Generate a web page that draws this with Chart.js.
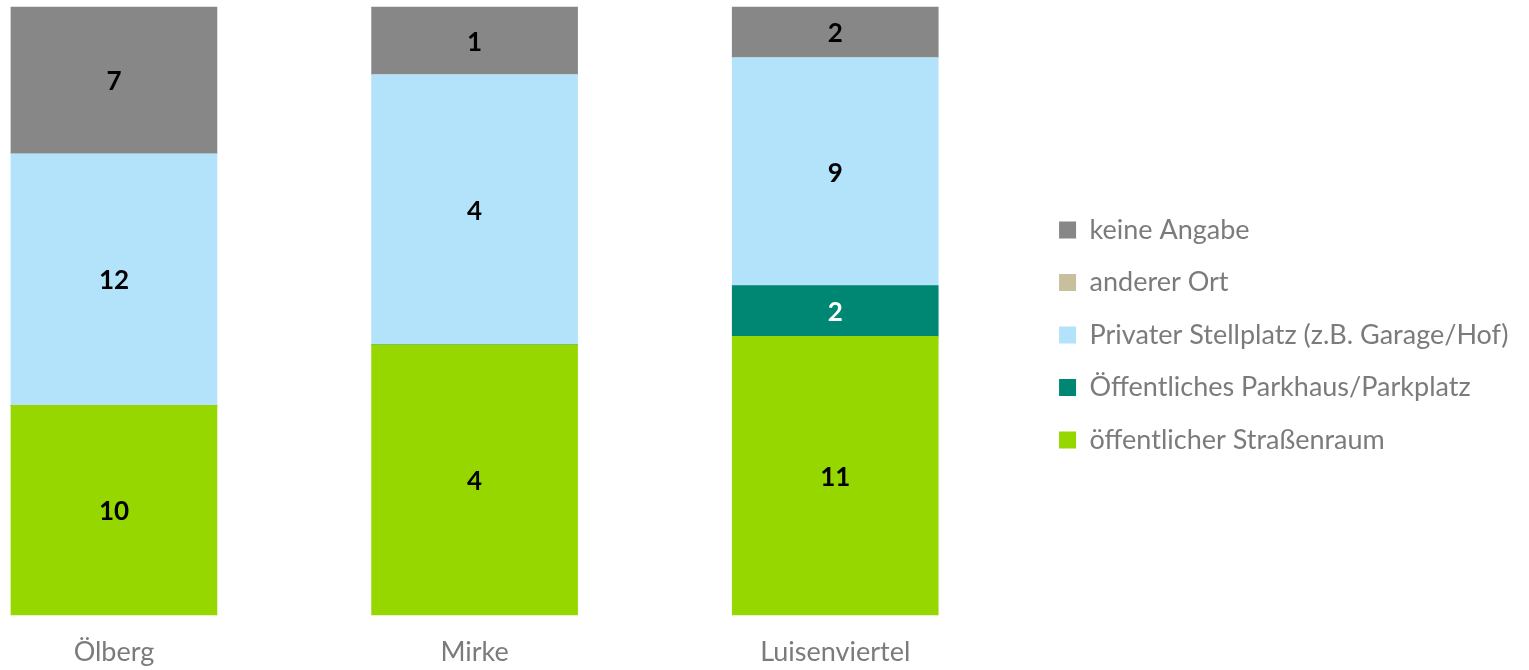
<!DOCTYPE html>
<html><head><meta charset="utf-8">
<script src="https://cdn.jsdelivr.net/npm/chart.js@4"></script>
<style>html,body{margin:0;padding:0;background:#fff}#wrap{width:1529px;height:670px;position:relative}</style>
</head><body><div id="wrap"><canvas id="c"></canvas></div>
<script>
const categories = ['Ölberg', 'Mirke', 'Luisenviertel'];
const seriesNames = ['öffentlicher Straßenraum', 'Öffentliches Parkhaus/Parkplatz', 'Privater Stellplatz (z.B. Garage/Hof)', 'anderer Ort', 'keine Angabe'];
const strassenraum = [10, 4, 11];
const parkhaus = [0, 0, 2];
const privat = [12, 4, 9];
const andererOrt = [0, 0, 0];
const keineAngabe = [7, 1, 2];
const seriesColors = ['#97d700', '#008774', '#b3e3fb', '#c8bf9f', '#878787'];
const labelColors = ['#000000', '#ffffff', '#000000', '#000000', '#000000'];

const FONT = 'Lato';
const counts = [strassenraum, parkhaus, privat, andererOrt, keineAngabe];
const totals = categories.map((_, i) => counts.reduce((s, arr) => s + arr[i], 0));

const datasets = counts.map((arr, k) => ({
  label: seriesNames[k],
  data: arr.map((v, i) => ({ x: i, y: v / totals[i] * 100 })),
  counts: arr,
  backgroundColor: seriesColors[k],
  borderWidth: 0,
  barThickness: 206,
  clip: false,
  labelColor: labelColors[k]
}));

const valueLabels = {
  id: 'valueLabels',
  afterDatasetsDraw(chart) {
    const ctx = chart.ctx;
    ctx.save();
    ctx.font = 'bold 26px ' + FONT;
    ctx.textAlign = 'center';
    ctx.textBaseline = 'middle';
    chart.data.datasets.forEach((ds, di) => {
      const meta = chart.getDatasetMeta(di);
      meta.data.forEach((el, i) => {
        const c = ds.counts[i];
        if (!c) return;
        ctx.fillStyle = ds.labelColor;
        ctx.fillText(String(c), el.x, (el.y + el.base) / 2 + 1.5);
      });
    });
    ctx.restore();
  }
};

new Chart(document.getElementById('c'), {
  type: 'bar',
  data: { datasets },
  options: {
    responsive: true,
    maintainAspectRatio: false,
    animation: false,
    layout: { padding: { left: 0, top: 0, right: 10.6, bottom: 0 } },
    plugins: {
      tooltip: { enabled: false },
      legend: {
        position: 'right',
        reverse: true,
        labels: {
          boxWidth: 17, boxHeight: 17, padding: 25.5,
          color: '#7b7b7b',
          font: { family: FONT, size: 27 }
        }
      }
    },
    scales: {
      x: {
        type: 'linear',
        stacked: true,
        offset: false,
        min: -0.316,
        max: 2.550,
        grid: {
          display: true, drawOnChartArea: false, drawTicks: true,
          tickLength: 20.2, color: 'rgba(0,0,0,0)'
        },
        border: { display: false },
        afterBuildTicks(scale) { scale.ticks = categories.map((_, i) => ({ value: i })); },
        ticks: {
          color: '#7b7b7b',
          font: { family: FONT, size: 27, lineHeight: 1.289 },
          padding: 0,
          maxRotation: 0,
          autoSkip: false,
          callback: (v) => categories[v]
        }
      },
      xTop: {
        type: 'linear',
        position: 'top',
        min: 0, max: 1,
        grid: { display: false, drawTicks: false },
        border: { display: false },
        ticks: { display: false },
        afterFit(scale) { scale.height = 7; }
      },
      y: {
        stacked: true, min: 0, max: 100, display: false
      }
    }
  },
  plugins: [valueLabels]
});
</script></body></html>
